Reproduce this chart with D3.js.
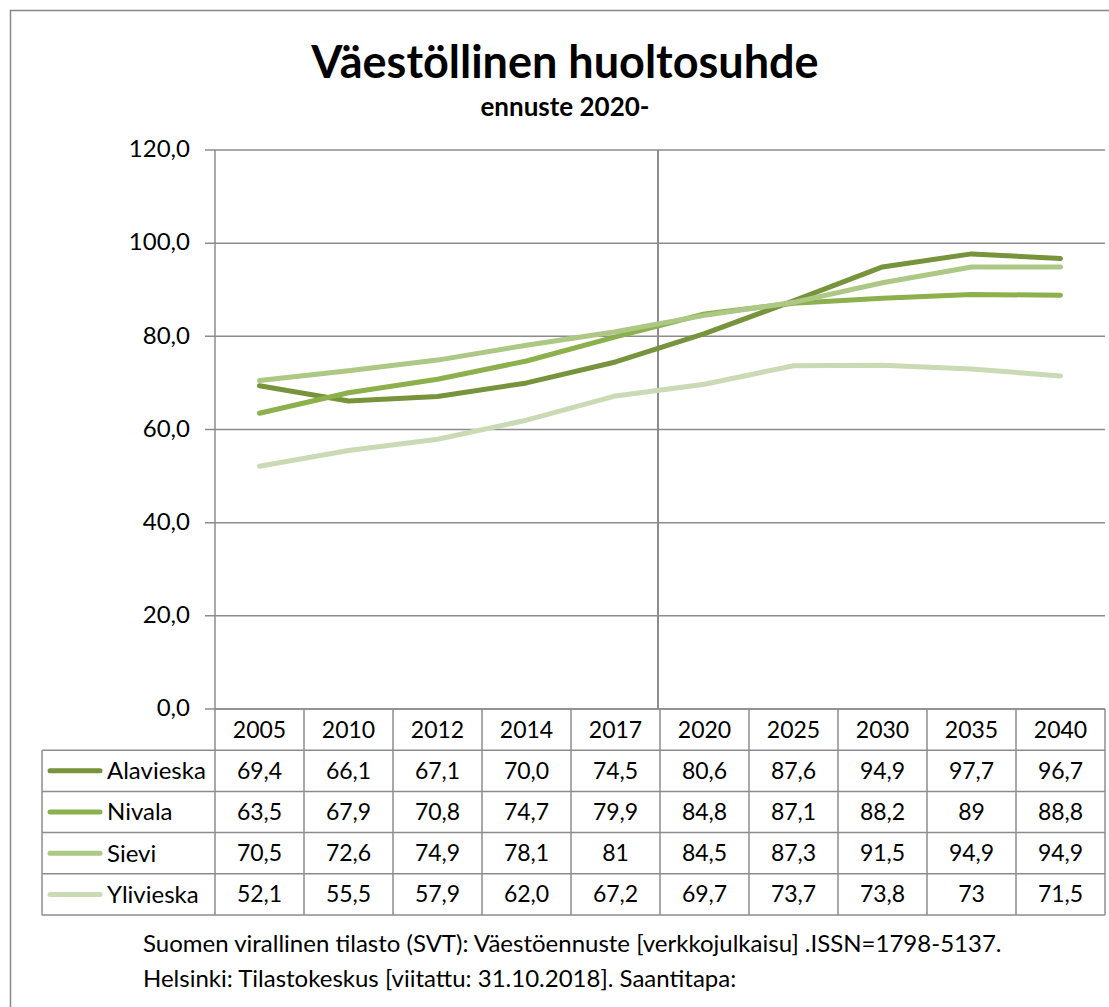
<!DOCTYPE html>
<html>
<head>
<meta charset="utf-8">
<script src="https://cdn.jsdelivr.net/npm/d3@7"></script>
<style>
  body { margin: 0; background: #fff; }
  svg text { font-family: Lato, Calibri, "Open Sans", sans-serif; fill: #000; }
</style>
</head>
<body>
<div class="canvas"></div>
<script>
// data
const years = ['2005', '2010', '2012', '2014', '2017', '2020', '2025', '2030', '2035', '2040'];
const seriesNames = ['Alavieska', 'Nivala', 'Sievi', 'Ylivieska'];
const alavieska = [69.4, 66.1, 67.1, 70.0, 74.5, 80.6, 87.6, 94.9, 97.7, 96.7];
const nivala = [63.5, 67.9, 70.8, 74.7, 79.9, 84.8, 87.1, 88.2, 89, 88.8];
const sievi = [70.5, 72.6, 74.9, 78.1, 81, 84.5, 87.3, 91.5, 94.9, 94.9];
const ylivieska = [52.1, 55.5, 57.9, 62.0, 67.2, 69.7, 73.7, 73.8, 73, 71.5];
// how the cells are printed in the table
const alavieskaLabels = ['69,4', '66,1', '67,1', '70,0', '74,5', '80,6', '87,6', '94,9', '97,7', '96,7'];
const nivalaLabels = ['63,5', '67,9', '70,8', '74,7', '79,9', '84,8', '87,1', '88,2', '89', '88,8'];
const sieviLabels = ['70,5', '72,6', '74,9', '78,1', '81', '84,5', '87,3', '91,5', '94,9', '94,9'];
const ylivieskaLabels = ['52,1', '55,5', '57,9', '62,0', '67,2', '69,7', '73,7', '73,8', '73', '71,5'];
const yTicks = [0, 20, 40, 60, 80, 100, 120];
const forecastStart = '2020';

const colours = ['#77933c', '#8cb04c', '#adc785', '#c9dab5'];

const series = seriesNames.map((name, i) => ({
    name: name,
    values: [alavieska, nivala, sievi, ylivieska][i],
    labels: [alavieskaLabels, nivalaLabels, sieviLabels, ylivieskaLabels][i],
    colour: colours[i]
}));

const svg = d3.select('.canvas')
    .append('svg')
    .attr('width', 1109)
    .attr('height', 1007);

// chart frame (right and bottom edges fall outside the picture)
svg.append('rect')
    .attr('x', 10.5).attr('y', 10.5)
    .attr('width', 1120).attr('height', 1020)
    .attr('fill', 'none')
    .attr('stroke', '#888')
    .attr('stroke-width', 1.5);

svg.append('text')
    .attr('x', 565).attr('y', 78)
    .attr('text-anchor', 'middle')
    .style('font-size', '45px')
    .style('font-weight', 'bold')
    .text('Väestöllinen huoltosuhde');

svg.append('text')
    .attr('x', 565).attr('y', 116)
    .attr('text-anchor', 'middle')
    .style('font-size', '26px')
    .style('font-weight', 'bold')
    .text('ennuste 2020-');

const x = d3.scaleBand()
    .domain(years)
    .range([215, 1105])
    .padding(0);

const y = d3.scaleLinear()
    .domain([0, 120])
    .range([709, 150]);

const grid = svg.append('g');

// horizontal gridlines
grid.selectAll('line.h')
    .data(yTicks)
    .enter()
    .append('line')
    .attr('x1', 205).attr('x2', 1105)
    .attr('y1', d => y(d)).attr('y2', d => y(d))
    .attr('stroke', '#8c8c8c')
    .attr('stroke-width', 1.5);

// y axis line
grid.append('line')
    .attr('x1', 215).attr('x2', 215)
    .attr('y1', y(120)).attr('y2', y(0))
    .attr('stroke', '#8c8c8c')
    .attr('stroke-width', 1.5);

// vertical marker before the forecast years
grid.append('line')
    .attr('x1', x(forecastStart) - 2).attr('x2', x(forecastStart) - 2)
    .attr('y1', y(120)).attr('y2', y(0))
    .attr('stroke', '#8c8c8c')
    .attr('stroke-width', 2);

grid.selectAll('text.tick')
    .data(yTicks)
    .enter()
    .append('text')
    .attr('x', 190)
    .attr('y', d => y(d))
    .attr('dy', '0.3em')
    .attr('text-anchor', 'end')
    .style('font-size', '24px')
    .text(d => d3.format('.1f')(d).replace('.', ','));

const line = d3.line()
    .x((d, i) => x(years[i]) + x.bandwidth() / 2)
    .y(d => y(d));

svg.append('g')
    .selectAll('path')
    .data(series)
    .enter()
    .append('path')
    .attr('d', d => line(d.values))
    .attr('fill', 'none')
    .attr('stroke', d => d.colour)
    .attr('stroke-width', 5)
    .attr('stroke-linecap', 'round')
    .attr('stroke-linejoin', 'round');

// data table
const tableLeft = 42;
const rowTop = 709;
const rowH = 41.2;
const table = svg.append('g');
const tableStroke = '#8c8c8c';

// header row
table.selectAll('text.year')
    .data(years)
    .enter()
    .append('text')
    .attr('x', d => x(d) + x.bandwidth() / 2)
    .attr('y', rowTop + rowH / 2)
    .attr('dy', '0.35em')
    .attr('text-anchor', 'middle')
    .style('font-size', '23px')
    .text(d => d);

// horizontal table lines
const hLines = [0, 1, 2, 3, 4, 5];
table.selectAll('line.row')
    .data(hLines)
    .enter()
    .append('line')
    .attr('x1', d => d === 0 ? 215 : tableLeft)
    .attr('x2', 1105)
    .attr('y1', d => rowTop + d * rowH)
    .attr('y2', d => rowTop + d * rowH)
    .attr('stroke', tableStroke)
    .attr('stroke-width', 1.5);

// vertical table lines
const colEdges = years.map(d => x(d)).concat([x.range()[1]]);
table.selectAll('line.col')
    .data(colEdges)
    .enter()
    .append('line')
    .attr('x1', d => d).attr('x2', d => d)
    .attr('y1', rowTop).attr('y2', rowTop + 5 * rowH)
    .attr('stroke', tableStroke)
    .attr('stroke-width', 1.5);

table.append('line')
    .attr('x1', tableLeft).attr('x2', tableLeft)
    .attr('y1', rowTop + rowH).attr('y2', rowTop + 5 * rowH)
    .attr('stroke', tableStroke)
    .attr('stroke-width', 1.5);

const rows = table.selectAll('g.row')
    .data(series)
    .enter()
    .append('g')
    .attr('transform', (d, i) => `translate(0, ${rowTop + (i + 1) * rowH + rowH / 2})`);

rows.append('line')
    .attr('x1', 50).attr('x2', 100)
    .attr('y1', 0).attr('y2', 0)
    .attr('stroke', d => d.colour)
    .attr('stroke-width', 5)
    .attr('stroke-linecap', 'round');

rows.append('text')
    .attr('x', 107)
    .attr('dy', '0.35em')
    .style('font-size', '24px')
    .text(d => d.name);

rows.selectAll('text.val')
    .data(d => d.labels)
    .enter()
    .append('text')
    .attr('x', (d, i) => x(years[i]) + x.bandwidth() / 2)
    .attr('dy', '0.35em')
    .attr('text-anchor', 'middle')
    .style('font-size', '23px')
    .text(d => d);

// source
svg.append('text')
    .attr('x', 143).attr('y', 952)
    .style('font-size', '24px')
    .text('Suomen virallinen tilasto (SVT): Väestöennuste [verkkojulkaisu] .ISSN=1798-5137.');

svg.append('text')
    .attr('x', 143).attr('y', 987)
    .style('font-size', '24px')
    .text('Helsinki: Tilastokeskus [viitattu: 31.10.2018]. Saantitapa:');
</script>
</body>
</html>
